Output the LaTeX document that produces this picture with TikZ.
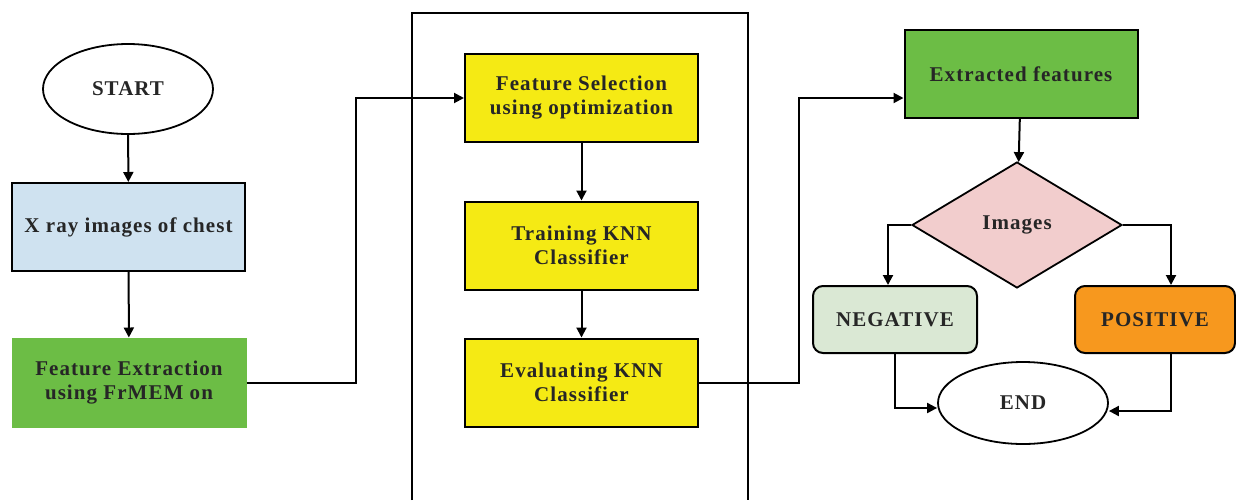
\documentclass[tikz,border=0pt]{standalone}
\usepackage{fontspec}
\setmainfont[LetterSpace=5]{Liberation Serif}
\usepackage{tikz}
\usetikzlibrary{shapes,arrows.meta,shapes.geometric}

\definecolor{xrayblue}{RGB}{207,226,240}
\definecolor{stepgreen}{RGB}{108,189,69}
\definecolor{stepyellow}{RGB}{245,234,20}
\definecolor{decpink}{RGB}{242,205,205}
\definecolor{neggreen}{RGB}{218,232,212}
\definecolor{posorange}{RGB}{247,152,30}

\tikzset{
  txt/.style={ font=\fontsize{10.5}{12}\selectfont\bfseries, align=center, text=black!85 }
}
\tikzset{
  oval/.style={ txt, draw, ellipse, line width=0.9pt, inner sep=0pt }
}
\tikzset{
  boxA/.style={ txt, draw, line width=1pt, minimum width=116.5pt, minimum height=44pt, inner sep=2pt }
}
\tikzset{
  boxR/.style={ txt, draw, line width=1pt, rounded corners=5pt, minimum height=33.5pt, inner sep=2pt }
}
\tikzset{
  flow/.style={ line width=1pt, -{Triangle[length=5pt,width=5pt]} }
}

\begin{document}
\begin{tikzpicture}[x=0.5pt, y=0.5pt]
      \useasboundingbox (0, 0) rectangle (1236, 500);

      % left column
      \node[oval, minimum width=85pt, minimum height=45pt] (start) at (128, 411) {START};
      \node[boxA, fill=xrayblue] (xray) at (128.5, 273) {X ray images of chest};
      \node[boxA, fill=stepgreen, draw=stepgreen] (fe) at (129, 117.5) {Feature Extraction\\using FrMEM on};
      \draw[flow] (start) -- (xray);
      \draw[flow] (xray) -- (fe);

      % classifier block
      \draw[line width=0.7pt] (412, 0) -- (412, 487) -- (748, 487) -- (748, 0);
      \node[boxA, fill=stepyellow] (fs) at (581.5, 402) {Feature Selection\\using optimization};
      \node[boxA, fill=stepyellow] (train) at (581.5, 254.5) {Training KNN\\Classifier};
      \node[boxA, fill=stepyellow] (eval) at (581.5, 117.5) {Evaluating KNN\\Classifier};
      \draw[flow] (fs) -- (train);
      \draw[flow] (train) -- (eval);
      \draw[flow] (fe.east) -- ++(109, 0) |- (fs.west);

      % decision part
      \node[boxA, fill=stepgreen] (ext) at (1021, 426) {Extracted features};
      \node[txt, draw, diamond, fill=decpink, line width=0.9pt, inner sep=0pt,
            minimum width=105pt, minimum height=63pt] (img) at (1017, 275) {Images};
      \node[boxR, fill=neggreen, minimum width=82pt] (neg) at (895, 180.5) {NEGATIVE};
      \node[boxR, fill=posorange, minimum width=80pt] (pos) at (1155, 180.5) {POSITIVE};
      \node[oval, minimum width=85pt, minimum height=41pt] (end) at (1023, 97) {END};

      \draw[flow] (eval.east) -- ++(100, 0) |- ([yshift=-12pt]ext.west);
      \draw[flow] (ext) -- (img);
      \draw[flow] (img.west) -| ([xshift=-3.5pt]neg.north);
      \draw[flow] (img.east) -| ([xshift=8pt]pos.north);
      \draw[flow] (neg.south) |- ([yshift=-2.5pt]end.west);
      \draw[flow] ([xshift=8pt]pos.south) |- ([yshift=-4pt]end.east);
\end{tikzpicture}
\end{document}
